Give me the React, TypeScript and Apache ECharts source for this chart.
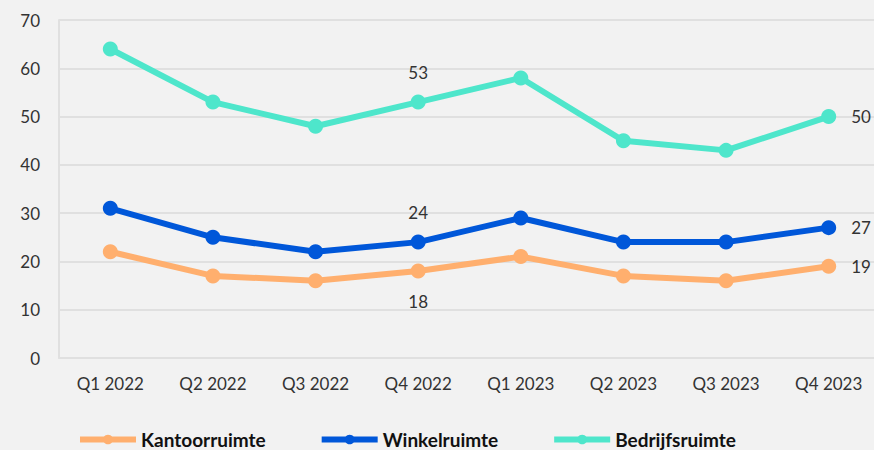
import React, { useEffect, useRef } from "react";
import * as echarts from "echarts";

const categories = ["Q1 2022", "Q2 2022", "Q3 2022", "Q4 2022", "Q1 2023", "Q2 2023", "Q3 2023", "Q4 2023"];
const kantoor = [22, 17, 16, 18, 21, 17, 16, 19];
const winkel = [31, 25, 22, 24, 29, 24, 24, 27];
const bedrijf = [64, 53, 48, 53, 58, 45, 43, 50];
const seriesNames = ["Kantoorruimte", "Winkelruimte", "Bedrijfsruimte"];
const colors = ["#FFAF6E", "#0057D9", "#4EE6CB"];
const labelIdx = [3, 7];

export default function App() {
  const ref = useRef<HTMLDivElement>(null);
  useEffect(() => {
    const chart = echarts.init(ref.current!, undefined, { renderer: "svg" });
    const font = "Lato, 'Noto Sans', sans-serif";
    const mk = (name: string, data: number[], color: string, q4pos: string) => ({
      name,
      type: "line",
      data: data.map((v, i) => ({
        value: v,
        label: labelIdx.includes(i)
          ? { show: true, position: i === 7 ? "right" : q4pos, distance: i === 7 ? 15 : 14 }
          : { show: false },
      })),
      color,
      symbol: "circle",
      symbolSize: 15,
      lineStyle: { width: 6, color },
      itemStyle: { color },
      label: { fontSize: 17, color: "#333", fontFamily: font },
    });
    chart.setOption({
      animation: false,
      backgroundColor: "#f2f2f2",
      textStyle: { fontFamily: font },
      grid: { left: 59, top: 20, width: 821, height: 338, containLabel: false, outerBoundsMode: "none" },
      legend: {
        left: 77,
        top: 430,
        padding: 0,
        itemWidth: 56,
        itemHeight: 12,
        itemGap: 53,
        lineStyle: { width: 6 },
        textStyle: { fontSize: 19, fontWeight: "bold", color: "#111", fontFamily: font },
        data: seriesNames,
      },
      xAxis: {
        type: "category",
        data: categories,
        boundaryGap: true,
        axisLine: { show: true, lineStyle: { color: "#e0e0e0", width: 2 } },
        axisTick: { show: false },
        axisLabel: { fontSize: 17, color: "#333", margin: 17, fontFamily: font },
      },
      yAxis: {
        type: "value",
        min: 0,
        max: 70,
        interval: 10,
        axisLine: { show: true, lineStyle: { color: "#e0e0e0", width: 2 } },
        axisTick: { show: false },
        splitLine: { lineStyle: { color: "#e0e0e0", width: 2 } },
        axisLabel: { fontSize: 17, color: "#333", margin: 19, fontFamily: font },
      },
      series: [
        mk(seriesNames[0], kantoor, colors[0], "bottom"),
        mk(seriesNames[1], winkel, colors[1], "top"),
        mk(seriesNames[2], bedrijf, colors[2], "top"),
      ],
    });
    return () => chart.dispose();
  }, []);
  return <div ref={ref} style={{ width: 874, height: 450, position: "absolute", left: 0, top: 0 }} />;
}
